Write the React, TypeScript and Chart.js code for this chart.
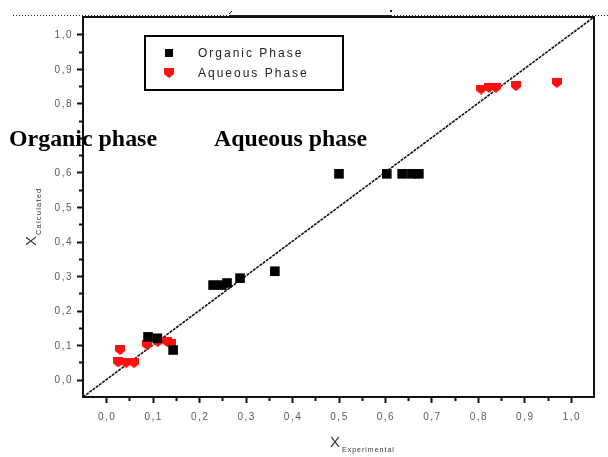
import { useEffect, useRef } from "react";
import { Chart, registerables } from "chart.js";

Chart.register(...registerables);

// Experimental vs. calculated mole fractions
const organicExp = [0.501, 0.604, 0.637, 0.658, 0.673, 0.363, 0.288, 0.26, 0.23, 0.249, 0.09, 0.11, 0.144];
const organicCalc = [0.596, 0.596, 0.596, 0.596, 0.596, 0.314, 0.294, 0.28, 0.274, 0.274, 0.124, 0.12, 0.086];
const aqueousExp = [0.03, 0.026, 0.043, 0.06, 0.088, 0.111, 0.131, 0.14, 0.807, 0.824, 0.839, 0.882, 0.97];
const aqueousCalc = [0.086, 0.05, 0.048, 0.048, 0.1, 0.109, 0.109, 0.103, 0.84, 0.845, 0.845, 0.85, 0.859];

const seriesLabels = ["Organic Phase", "Aqueous Phase"];
const phaseNotes = ["Organic phase", "Aqueous phase"];
const majorTicks = [0, 0.1, 0.2, 0.3, 0.4, 0.5, 0.6, 0.7, 0.8, 0.9, 1.0];
const minorTicks = [0.05, 0.15, 0.25, 0.35, 0.45, 0.55, 0.65, 0.75, 0.85, 0.95];
const axisMin = -0.05;
const axisMax = 1.05;
const parityLine = [axisMin, axisMax];

const fmt = (v: number) => v.toFixed(1).replace(".", ",");

function makeShield(color: string, size: number) {
  const c = document.createElement("canvas");
  c.width = size;
  c.height = size;
  const g = c.getContext("2d")!;
  g.fillStyle = color;
  g.beginPath();
  g.moveTo(0, 0);
  g.lineTo(size, 0);
  g.lineTo(size, size * 0.6);
  g.lineTo(size / 2, size);
  g.lineTo(0, size * 0.6);
  g.closePath();
  g.fill();
  return c;
}

const frameAndTicks = {
  id: "frameAndTicks",
  beforeDatasetsDraw(chart: any) {
    const { ctx, chartArea: a, scales } = chart;
    const xs = scales.x;
    const ys = scales.y;
    ctx.save();
    ctx.strokeStyle = "#111";
    ctx.lineWidth = 2;
    ctx.beginPath();
    majorTicks.forEach((v) => {
      const px = Math.round(xs.getPixelForValue(v)) + 0.5;
      ctx.moveTo(px, a.bottom);
      ctx.lineTo(px, a.bottom + 6);
      const py = Math.round(ys.getPixelForValue(v)) + 0.5;
      ctx.moveTo(a.left, py);
      ctx.lineTo(a.left - 6, py);
    });
    minorTicks.forEach((v) => {
      const px = Math.round(xs.getPixelForValue(v)) + 0.5;
      ctx.moveTo(px, a.bottom);
      ctx.lineTo(px, a.bottom + 4);
      const py = Math.round(ys.getPixelForValue(v)) + 0.5;
      ctx.moveTo(a.left, py);
      ctx.lineTo(a.left - 4, py);
    });
    ctx.stroke();
    ctx.strokeRect(a.left, a.top, a.right - a.left, a.bottom - a.top);

    // tick labels
    ctx.fillStyle = "#5a5a5a";
    ctx.font = '10px "Liberation Sans", Arial, sans-serif';
    (ctx as any).letterSpacing = "1.5px";
    ctx.textBaseline = "middle";
    ctx.textAlign = "center";
    majorTicks.forEach((v) => {
      ctx.fillText(fmt(v), xs.getPixelForValue(v) + 1, a.bottom + 20);
    });
    ctx.textAlign = "right";
    majorTicks.forEach((v) => {
      ctx.fillText(fmt(v), a.left - 10, ys.getPixelForValue(v) + 1);
    });
    ctx.restore();
  },
  afterDraw(chart: any) {
    const { ctx } = chart;
    ctx.save();

    // rule along the top edge
    ctx.strokeStyle = "#222";
    ctx.lineWidth = 1;
    ctx.setLineDash([1, 2]);
    ctx.beginPath();
    ctx.moveTo(13, 15.5);
    ctx.lineTo(229, 15.5);
    ctx.moveTo(391, 15.5);
    ctx.lineTo(608, 15.5);
    ctx.stroke();
    ctx.setLineDash([]);
    ctx.beginPath();
    ctx.moveTo(229, 15.5);
    ctx.lineTo(391, 15.5);
    ctx.moveTo(229, 14);
    ctx.lineTo(232, 11);
    ctx.stroke();
    ctx.fillStyle = "#222";
    ctx.fillRect(390, 10, 2, 2);

    // legend box
    ctx.lineWidth = 2;
    ctx.strokeStyle = "#000";
    ctx.strokeRect(145, 36, 198, 54);
    ctx.fillStyle = "#000";
    ctx.fillRect(165, 49, 8, 8);
    ctx.drawImage(shieldRed, 164, 68, 10, 10);
    ctx.fillStyle = "#222";
    ctx.font = '12px "Liberation Sans", Arial, sans-serif';
    (ctx as any).letterSpacing = "2px";
    ctx.textAlign = "left";
    ctx.textBaseline = "middle";
    ctx.fillText(chart.data.datasets[0].label, 198, 54);
    ctx.fillText(chart.data.datasets[1].label, 198, 74);
    (ctx as any).letterSpacing = "0px";

    // phase notes
    ctx.fillStyle = "#fff";
    ctx.fillRect(44, 129, 34, 17);
    ctx.fillStyle = "#000";
    ctx.font = 'bold 23px "Liberation Serif", "Times New Roman", serif';
    ctx.textBaseline = "alphabetic";
    const fit = (txt: string, x: number, w: number) => {
      const m = ctx.measureText(txt).width;
      ctx.save();
      ctx.translate(x, 146);
      ctx.scale(w / m, 1);
      ctx.fillText(txt, 0, 0);
      ctx.restore();
    };
    fit(phaseNotes[0], 9, 148);
    fit(phaseNotes[1], 214, 153);

    // axis titles
    ctx.fillStyle = "#333";
    ctx.font = '15px "Liberation Sans", Arial, sans-serif';
    ctx.textBaseline = "alphabetic";
    ctx.fillText("X", 330, 447);
    ctx.font = '7px "Liberation Sans", Arial, sans-serif';
    (ctx as any).letterSpacing = "1px";
    ctx.fillText("Experimental", 342, 452);
    (ctx as any).letterSpacing = "0px";

    ctx.save();
    ctx.translate(36, 246);
    ctx.rotate(-Math.PI / 2);
    ctx.font = '15px "Liberation Sans", Arial, sans-serif';
    ctx.fillText("X", 0, 0);
    ctx.font = '7.5px "Liberation Sans", Arial, sans-serif';
    (ctx as any).letterSpacing = "1.2px";
    ctx.fillText("Calculated", 11, 5);
    ctx.restore();

    ctx.restore();
  },
};

let shieldRed: HTMLCanvasElement;

export default function App() {
  const ref = useRef<HTMLCanvasElement>(null);

  useEffect(() => {
    shieldRed = makeShield("#ff1010", 10);
    const chart = new Chart(ref.current!, {
      type: "scatter",
      data: {
        datasets: [
          {
            label: seriesLabels[0],
            data: organicExp.map((x, i) => ({ x, y: organicCalc[i] })),
            pointStyle: "rect",
            pointRadius: 6.8,
            backgroundColor: "#000",
            borderColor: "#000",
            borderWidth: 0,
          },
          {
            label: seriesLabels[1],
            data: aqueousExp.map((x, i) => ({ x, y: aqueousCalc[i] })),
            pointStyle: shieldRed,
            pointRadius: 5,
            backgroundColor: "#ff1010",
            borderColor: "#ff1010",
          },
          {
            label: "parity",
            type: "line",
            data: parityLine.map((v) => ({ x: v, y: v })),
            borderColor: "#111",
            borderWidth: 1.6,
            borderDash: [3, 1],
            pointRadius: 0,
            fill: false,
          },
        ],
      },
      options: {
        animation: false,
        responsive: false,
        layout: { padding: { top: 17, right: 14, left: 0, bottom: 0 } },
        plugins: {
          legend: { display: false },
          tooltip: { enabled: false },
        },
        scales: {
          x: {
            type: "linear",
            min: axisMin,
            max: axisMax,
            grid: { display: false },
            border: { display: false },
            ticks: { display: false },
            afterFit: (s: any) => {
              s.height = 60;
            },
          },
          y: {
            type: "linear",
            min: axisMin,
            max: axisMax,
            grid: { display: false },
            border: { display: false },
            ticks: { display: false },
            afterFit: (s: any) => {
              s.width = 83;
            },
          },
        },
      },
      plugins: [frameAndTicks],
    });
    return () => chart.destroy();
  }, []);

  return (
    <div style={{ position: "absolute", left: 0, top: 0, width: 608, height: 457, background: "#fff" }}>
      <canvas ref={ref} width={608} height={457} style={{ width: 608, height: 457 }} />
    </div>
  );
}
